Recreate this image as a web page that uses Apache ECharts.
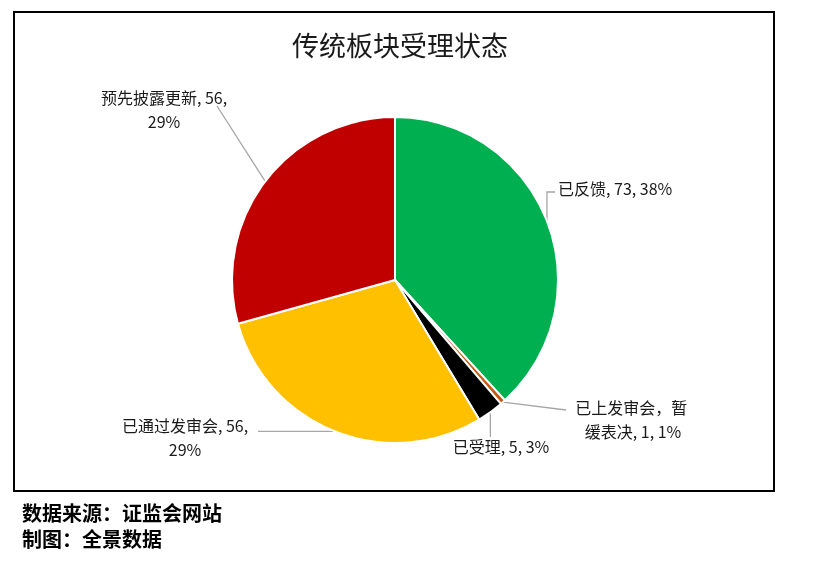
<!DOCTYPE html>
<html>
<head>
<meta charset="utf-8">
<script src="https://cdn.jsdelivr.net/npm/echarts@6/dist/echarts.min.js"></script>
<style>html,body{margin:0;padding:0;background:#fff;}#c{width:819px;height:564px;}</style>
</head>
<body>
<div id="c"></div>
<script>
const categories = ['已反馈', '已上发审会，暂缓表决', '已受理', '已通过发审会', '预先披露更新'];
const values = [73, 1, 5, 56, 56];
const colors = ['#00B050', '#C55A11', '#000000', '#FFC000', '#C00000'];
const titleText = '传统板块受理状态';
const footer1 = '数据来源：证监会网站';
const footer2 = '制图：全景数据';

// label wrapping: number = break after n chars of name; 'pct' = break before percent
const wrap = [null, 7, null, 'pct', 'pct'];

const FONT = '"Noto Sans CJK SC", "Noto Sans", sans-serif';

const chart = echarts.init(document.getElementById('c'));

function fmt(p) {
  const i = p.dataIndex;
  const w = wrap[i];
  if (w === 'pct') return p.name + ', ' + p.value + ',\n' + Math.round(p.percent) + '%';
  const s = p.name + ', ' + p.value + ', ' + Math.round(p.percent) + '%';
  if (typeof w === 'number') return s.slice(0, w) + ' \n' + s.slice(w);
  return s;
}

// label placement (layout only)
const labelPos = [
  {x: 558, y: 189, align: 'left'},
  {x: 633, y: 420, align: 'center'},
  {x: 501, y: 447, align: 'center'},
  {x: 185, y: 438, align: 'center'},
  {x: 164, y: 110, align: 'center'}
];

chart.setOption({
  backgroundColor: '#fff',
  animation: false,
  title: {
    text: titleText,
    left: 395, top: 27, textAlign: 'center',
    textStyle: {fontFamily: FONT, fontSize: 27, fontWeight: 'normal', color: '#1a1a1a'}
  },
  graphic: [
    {type: 'rect', shape: {x: 14, y: 12, width: 760, height: 479}, style: {fill: 'none', stroke: '#000', lineWidth: 2}, z: 100},
    {type: 'text', left: 22, top: 503, style: {text: footer1, font: 'bold 20px ' + FONT, fill: '#000'}},
    {type: 'text', left: 22, top: 529, style: {text: footer2, font: 'bold 20px ' + FONT, fill: '#000'}}
  ],
  series: [{
    type: 'pie',
    center: [395, 280],
    radius: [0, 163],
    startAngle: 90,
    clockwise: true,
    percentPrecision: 0,
    avoidLabelOverlap: false,
    itemStyle: {borderColor: '#fff', borderWidth: 2},
    label: {
      show: true,
      formatter: fmt,
      fontFamily: FONT,
      fontSize: 16,
      lineHeight: 24,
      color: '#1a1a1a'
    },
    labelLine: {show: true, length: 10, length2: 10, lineStyle: {color: '#A6A6A6', width: 1.3}},
    labelLayout: function (params) {
      const i = params.dataIndex;
      const lp = labelPos[i];
      const a = (params.labelLinePoints && params.labelLinePoints[0]) || [0, 0];
      let pts;
      if (i === 0) pts = [a, [a[0], 192], [555, 192]];
      else if (i === 1) pts = [a, [566, 410]];
      else if (i === 2) pts = [a, [a[0], 437]];
      else if (i === 3) pts = [a, [258, a[1]]];
      else pts = [a, [217, 106]];
      return {x: lp.x, y: lp.y, align: lp.align, verticalAlign: 'middle', labelLinePoints: pts};
    },
    data: categories.map((n, i) => ({name: n, value: values[i], itemStyle: {color: colors[i]}}))
  }]
});
</script>
</body>
</html>
